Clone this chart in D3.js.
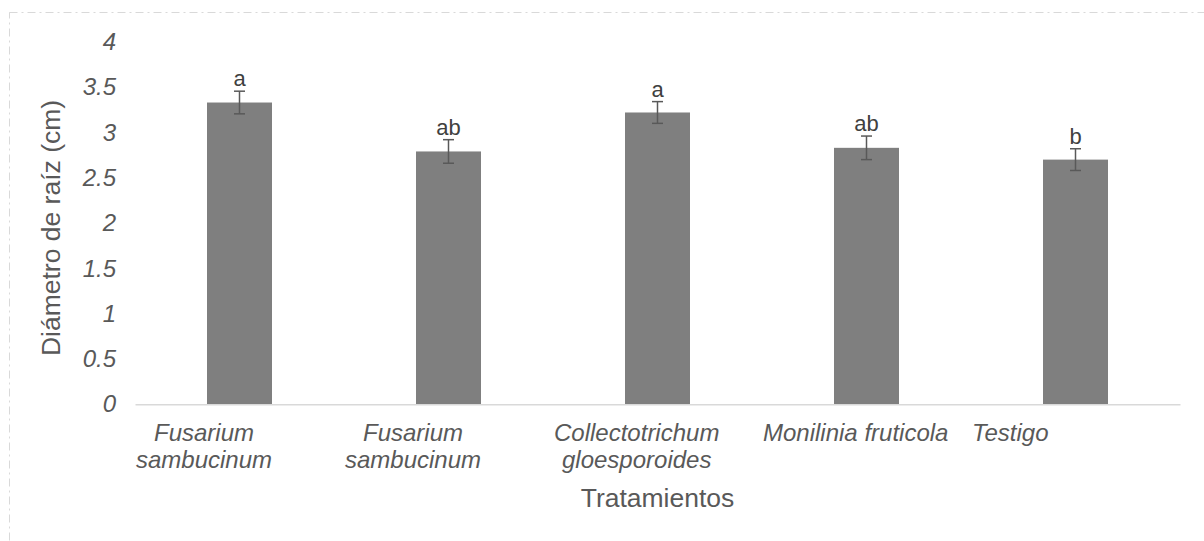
<!DOCTYPE html>
<html>
<head>
<meta charset="utf-8">
<script src="https://cdn.jsdelivr.net/npm/d3@7"></script>
<style>
  html, body { margin: 0; padding: 0; background: #ffffff; }
  svg { display: block; font-family: Arial, "Liberation Sans", sans-serif; }
</style>
</head>
<body>
<svg id="chart" width="1204" height="541"></svg>
<script>
// ---- data ----
const categories = ["Fusarium sambucinum", "Fusarium sambucinum", "Collectotrichum gloesporoides", "Monilinia fruticola", "Testigo"];
const categoryLines = [["Fusarium", "sambucinum"], ["Fusarium", "sambucinum"], ["Collectotrichum", "gloesporoides"], ["Monilinia fruticola"], ["Testigo"]];
const values = [3.33, 2.79, 3.22, 2.83, 2.70];
const errors = [0.125, 0.13, 0.12, 0.13, 0.12];
const letters = ["a", "ab", "a", "ab", "b"];
const yTicks = [0, 0.5, 1, 1.5, 2, 2.5, 3, 3.5, 4];
const yTitle = "Diámetro de raíz (cm)";
const xTitle = "Tratamientos";

// ---- drawing ----
const svg = d3.select("#chart");

// chart area border (dashed)
svg.append("rect")
  .attr("x", 9.5).attr("y", 12.5)
  .attr("width", 1400).attr("height", 700)
  .attr("fill", "none")
  .attr("stroke", "#d9d9d9")
  .attr("stroke-width", 1)
  .attr("stroke-dasharray", "8,4,2,4");

const x = d3.scaleBand()
  .domain(d3.range(categories.length))
  .range([135, 1180])
  .paddingInner(0.689)
  .paddingOuter(0.3445);

const y = d3.scaleLinear().domain([0, 4]).range([404.3, 41.8]);

// y axis ticks (no line)
const yAxis = svg.append("g")
  .attr("transform", "translate(120,0)")
  .call(d3.axisLeft(y).tickValues(yTicks).tickSize(0).tickPadding(4).tickFormat(d3.format("~g")));
yAxis.select(".domain").remove();
yAxis.selectAll("text")
  .attr("font-size", 24)
  .attr("font-style", "italic")
  .attr("fill", "#595959")
  .attr("font-family", "Arial, 'Liberation Sans', sans-serif");

// bars
svg.append("g").selectAll("rect")
  .data(values)
  .join("rect")
  .attr("x", (d, i) => x(i))
  .attr("width", x.bandwidth())
  .attr("y", d => y(d))
  .attr("height", d => y(0) - y(d))
  .attr("fill", "#7f7f7f");

// x axis line
const xAxis = svg.append("g")
  .attr("transform", `translate(0,${y(0)})`)
  .call(d3.axisBottom(x).tickSize(0).tickSizeOuter(0).tickFormat(""));
xAxis.select(".domain").attr("stroke", "#d9d9d9").attr("stroke-width", 1.5);
xAxis.selectAll(".tick").remove();

// error bars
const eg = svg.append("g").attr("stroke", "#595959").attr("stroke-width", 1.5).attr("fill", "none");
values.forEach((v, i) => {
  const cx = x(i) + x.bandwidth() / 2;
  const hi = y(v + errors[i]), lo = y(v - errors[i]);
  const cap = 5.5;
  eg.append("line").attr("x1", cx).attr("x2", cx).attr("y1", hi).attr("y2", lo);
  eg.append("line").attr("x1", cx - cap).attr("x2", cx + cap).attr("y1", hi).attr("y2", hi);
  eg.append("line").attr("x1", cx - cap).attr("x2", cx + cap).attr("y1", lo).attr("y2", lo);
});

// significance letters
svg.append("g").selectAll("text")
  .data(letters)
  .join("text")
  .attr("x", (d, i) => x(i) + x.bandwidth() / 2)
  .attr("y", (d, i) => y(values[i] + errors[i]) - 5)
  .attr("text-anchor", "middle")
  .attr("font-size", 22)
  .attr("fill", "#404040")
  .text(d => d);

// category labels: block left-aligned at band start, lines centred in block
const step = x.step();
const lg = svg.append("g");
categoryLines.forEach((lines, i) => {
  const left = x(i) - (step - x.bandwidth()) / 2 + 1;
  const t = lg.append("text")
    .attr("font-size", 24)
    .attr("font-style", "italic")
    .attr("fill", "#595959")
    .attr("text-anchor", "middle");
  const spans = lines.map((ln, k) => t.append("tspan")
    .attr("y", 441 + k * 27)
    .text(ln));
  const w = d3.max(spans, s => s.node().getComputedTextLength());
  spans.forEach(s => s.attr("x", left + w / 2));
});

// axis titles
svg.append("text")
  .attr("x", (x.range()[0] + x.range()[1]) / 2)
  .attr("y", 507)
  .attr("text-anchor", "middle")
  .attr("font-size", 26.5)
  .attr("fill", "#595959")
  .text(xTitle);

svg.append("text")
  .attr("transform", `translate(60,228) rotate(-90)`)
  .attr("text-anchor", "middle")
  .attr("font-size", 26.5)
  .attr("fill", "#595959")
  .text(yTitle);
</script>
</body>
</html>
